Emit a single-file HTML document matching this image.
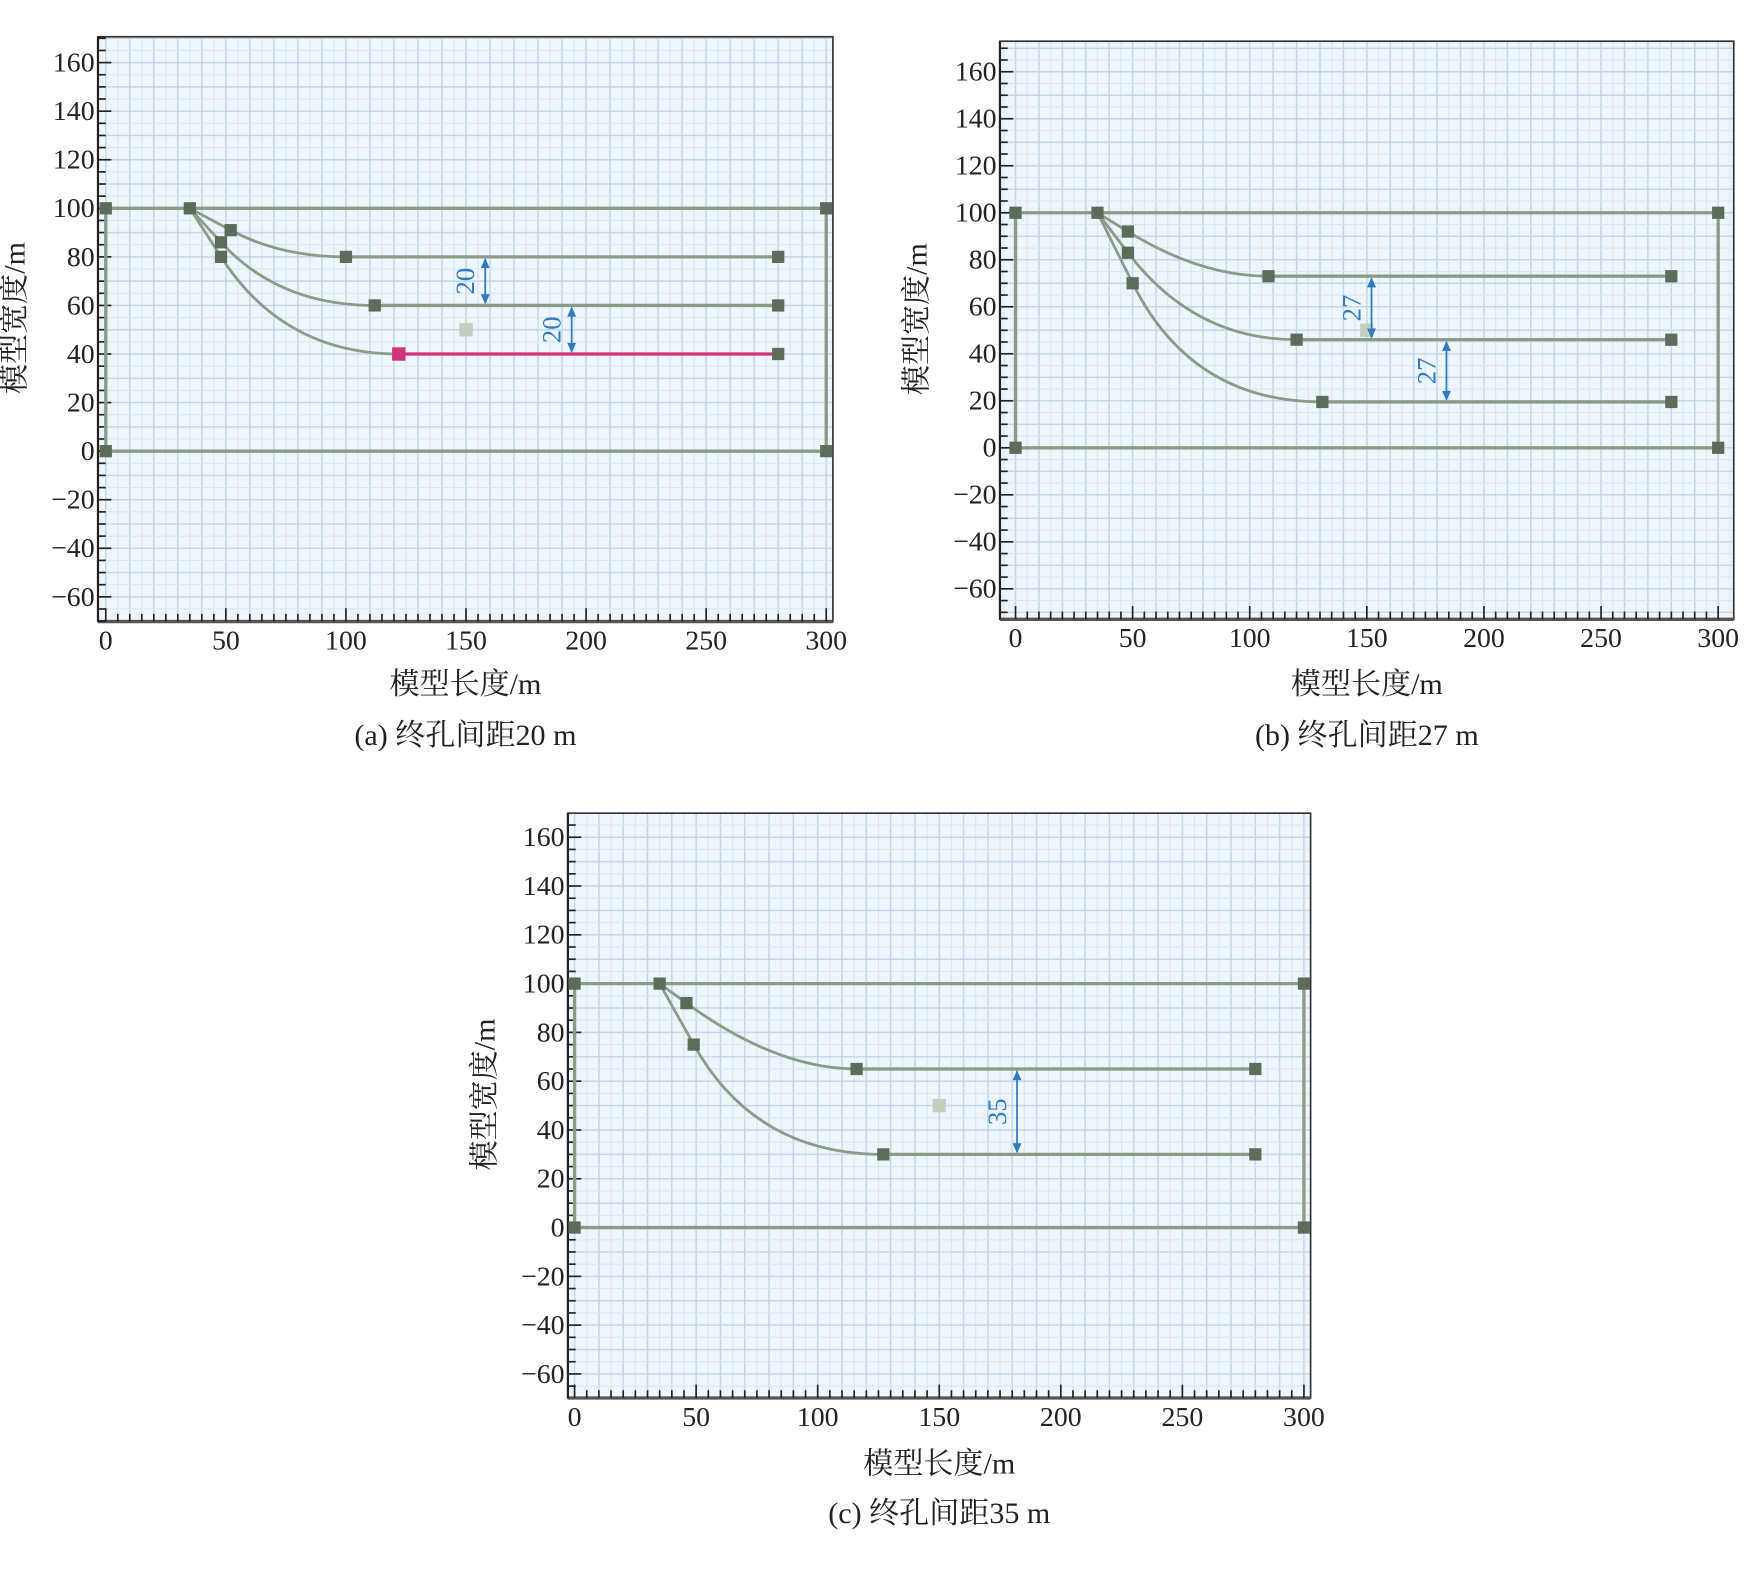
<!DOCTYPE html>
<html><head><meta charset="utf-8"><style>
html,body{margin:0;padding:0;background:#fff}
svg{display:block}
text{font-family:"Liberation Serif","Noto Serif CJK SC",serif;fill:#222}
</style></head><body>
<svg id="s" width="1746" height="1574" viewBox="0 0 1568 1413" preserveAspectRatio="none" xmlns="http://www.w3.org/2000/svg"></svg>
<script>
// Panel data (model units, m)
const panelIds = ['a','b','c'];
const captions = ['(a) 终孔间距20 m','(b) 终孔间距27 m','(c) 终孔间距35 m'];
const xTicks = [0,50,100,150,200,250,300];
const yTicks = [160,140,120,100,80,60,40,20,0,-20,-40,-60];
// borehole nodes per panel: [midX, midY, endX, endY]
const holesA = [[52,91,100,80],[48,86,112,60],[48,80,122,40]];
const holesB = [[48,92,108,73],[48,83,120,46],[50,70,131,19.5]];
const holesC = [[46,92,116,65],[49,75,127,30]];
const dimsA = [[158,80,60,'20'],[194,60,40,'20']];
const dimsB = [[152,73,46,'27'],[184,46,19.5,'27']];
const dimsC = [[182,65,30,'35']];
const holeSets=[holesA,holesB,holesC], dimSets=[dimsA,dimsB,dimsC];
const highlight=[2,-1,-1];
const FF='"Liberation Serif","Noto Serif CJK SC",serif';
// layout
const L=[
 {left:88,right:748,top:33,bottom:558,x0:95,x1:742,y100:187,y0:405,cap:660,xt:614},
 {left:898,right:1557,top:37,bottom:556,x0:912,x1:1543,y100:191,y0:402,cap:660,xt:614},
 {left:510,right:1177,top:730,bottom:1255,x0:516,x1:1171,y100:883,y0:1102,cap:1358,xt:1314}
];
const NS='http://www.w3.org/2000/svg', svg=document.getElementById('s');
function el(t,a,p){const e=document.createElementNS(NS,t);for(const k in a)e.setAttribute(k,a[k]);if(t==='text')e.setAttribute('font-family',FF);(p||svg).appendChild(e);return e;}
L.forEach((g,pi)=>{
 const X=v=>g.x0+(g.x1-g.x0)*v/300, Y=v=>g.y0-(g.y0-g.y100)*v/100;
 const G=el('g',{});
 
 
 const bg=el('rect',{x:g.left,y:g.top,width:g.right-g.left,height:g.bottom-g.top,fill:'#eef5fb'},G);
 
 for(let v=-5;v<=305;v+=5){const x=X(v);if(x<=g.left||x>=g.right)continue;
  el('line',{x1:x,x2:x,y1:g.top,y2:g.bottom,stroke:v%10==0?'#c3d8ea':'#d9e7f3','stroke-width':v%10==0?1.3:1},G);}
 for(let v=-80;v<=180;v+=5){const y=Y(v);if(y<=g.top||y>=g.bottom)continue;
  el('line',{x1:g.left,x2:g.right,y1:y,y2:y,stroke:v%10==0?'#c3d8ea':'#d9e7f3','stroke-width':v%10==0?1.3:1},G);}
 el('rect',{x:g.left,y:g.top,width:g.right-g.left,height:g.bottom-g.top,fill:'none',stroke:'#333','stroke-width':1.5},G);
 el('line',{x1:g.left,x2:g.right,y1:g.bottom,y2:g.bottom,stroke:'#555','stroke-width':3},G);
 el('line',{x1:g.left,x2:g.left,y1:g.top,y2:g.bottom,stroke:'#222','stroke-width':2},G);
 for(let v=-70;v<=170;v+=5){const y=Y(v);if(y<g.top||y>g.bottom)continue;
  el('line',{x1:g.left,x2:g.left+(v%20==0?12:7),y1:y,y2:y,stroke:'#222','stroke-width':1.5},G);}
 for(let v=0;v<=300;v+=5){const x=X(v);
  el('line',{x1:x,x2:x,y1:g.bottom,y2:g.bottom-(v%50==0?12:7),stroke:'#222','stroke-width':1.5},G);}
 yTicks.forEach(v=>{const y=Y(v);if(y<g.top)return;
  const t=el('text',{x:g.left-3,y:y+8,'text-anchor':'end','font-size':25},G);t.textContent=(v<0?'\u2212'+(-v):v);
  });
 xTicks.forEach(v=>{const t=el('text',{x:X(v),y:g.bottom+25,'text-anchor':'middle','font-size':25},G);t.textContent=v;
  });
 const xt=el('text',{x:(g.left+g.right)/2,y:g.xt+9,'text-anchor':'middle','font-size':27},G);xt.textContent='模型长度/m';
 
 const yx=g.left-66, yy=(g.top+g.bottom)/2-10;
 const yt=el('text',{x:yx,y:yy,'text-anchor':'middle','font-size':27,transform:`rotate(-90 ${yx} ${yy})`},G);yt.textContent='模型宽度/m';
 
 const cp=el('text',{x:(g.left+g.right)/2,y:g.cap+9,'text-anchor':'middle','font-size':27},G);cp.textContent=captions[pi];
 
 const LC='#8a9c88', NC='#5b6d5a';
 el('line',{x1:X(0),x2:X(300),y1:Y(100),y2:Y(100),stroke:LC,'stroke-width':3},G);
 el('line',{x1:X(0),x2:X(300),y1:Y(0),y2:Y(0),stroke:LC,'stroke-width':3},G);
 el('line',{x1:X(0),x2:X(0),y1:Y(0),y2:Y(100),stroke:LC,'stroke-width':3},G);
 el('line',{x1:X(300),x2:X(300),y1:Y(0),y2:Y(100),stroke:LC,'stroke-width':3},G);
 const nodes=[[0,100],[300,100],[0,0],[300,0],[35,100]];
 holeSets[pi].forEach((h,hi)=>{
  const [mx,my,ex,ey]=h;
  const t=(my-ey)/(100-my); const cx=mx+(mx-35)*t;
  const p=el('path',{d:`M${X(35)},${Y(100)} L${X(mx)},${Y(my)} Q${X(cx)},${Y(ey)} ${X(ex)},${Y(ey)}`,fill:'none',stroke:LC,'stroke-width':2.5},G);
  
  const hl=highlight[pi]===hi;
  const ln=el('line',{x1:X(ex),x2:X(280),y1:Y(ey),y2:Y(ey),stroke:hl?'#d0337a':LC,'stroke-width':3},G);
  
  nodes.push([mx,my]);nodes.push([280,ey]);
  if(!hl)nodes.push([ex,ey]);
 });
 nodes.forEach(n=>{const r=el('rect',{x:X(n[0])-5.5,y:Y(n[1])-5.5,width:11,height:11,fill:NC},G);
  });
 if(highlight[pi]>=0){const h=holeSets[pi][highlight[pi]];
  const r=el('rect',{x:X(h[2])-6,y:Y(h[3])-6,width:12,height:12,fill:'#d0337a'},G);
  }
 const c=el('rect',{x:X(150)-6,y:Y(50)-6,width:12,height:12,fill:'#c3d0bf'},G);
 
 dimSets[pi].forEach(d=>{const [dx,y1,y2,lab]=d;const x=X(dx),a=Y(y1),b=Y(y2),B='#2f7bc0';
  el('line',{x1:x,x2:x,y1:a+2,y2:b-2,stroke:B,'stroke-width':1.6},G);
  el('path',{d:`M${x-4},${a+10} L${x},${a+1} L${x+4},${a+10} Z M${x-4},${b-10} L${x},${b-1} L${x+4},${b-10} Z`,fill:B},G);
  const tx=x-10,ty=(a+b)/2;
  const t=el('text',{x:tx,y:ty,'text-anchor':'middle','font-size':24,transform:`rotate(-90 ${tx} ${ty})`,style:'fill:'+B},G);t.textContent=lab;
  });
});
</script>
</body></html>
